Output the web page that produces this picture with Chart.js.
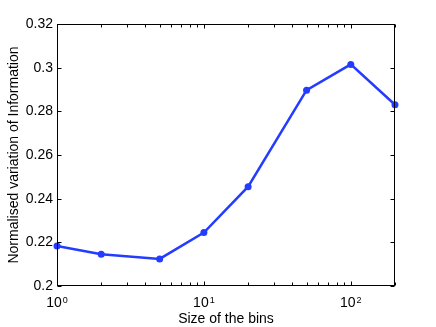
<!DOCTYPE html>
<html>
<head>
<meta charset="utf-8">
<script src="https://cdn.jsdelivr.net/npm/chart.js@4/dist/chart.umd.min.js"></script>
<style>
  html, body { margin: 0; padding: 0; background: #fff; }
  #wrap { width: 436px; height: 327px; }
</style>
</head>
<body>
<div id="wrap"><canvas id="c" width="436" height="327"></canvas></div>
<script>
// ---- data ----
const binSizes = [1, 2, 5, 10, 20, 50, 100, 200];
const nviValues = [0.2183, 0.2145, 0.2124, 0.2245, 0.2455, 0.2897, 0.3015, 0.2830];
const yTickValues = [0.2, 0.22, 0.24, 0.26, 0.28, 0.3, 0.32];
const xMajorTicks = [1, 10, 100];
const xMinorTicks = [2, 3, 4, 5, 6, 7, 8, 9, 20, 30, 40, 50, 60, 70, 80, 90, 200];
const xTitle = 'Size of the bins';
const yTitle = 'Normalised variation of Information';

const FONT = 'Liberation Sans, Arial, Helvetica, sans-serif';

const boxPlugin = {
  id: 'matlabBox',
  afterDraw(chart) {
    const ctx = chart.ctx;
    const a = chart.chartArea;
    const xs = chart.scales.x, ys = chart.scales.y;
    const L = Math.round(a.left) + 0.5, R = Math.round(a.right) - 0.5;
    const T = Math.round(a.top) + 0.5, B = Math.round(a.bottom) - 0.5;
    ctx.save();
    ctx.strokeStyle = '#000';
    ctx.lineWidth = 1;
    ctx.strokeRect(L, T, R - L, B - T);
    ctx.beginPath();
    // y ticks (inside, both sides)
    yTickValues.forEach(v => {
      const y = Math.round(ys.getPixelForValue(v)) + 0.5;
      ctx.moveTo(L, y); ctx.lineTo(L + 4, y);
      ctx.moveTo(R, y); ctx.lineTo(R - 4, y);
    });
    // x ticks (inside, top and bottom)
    const xt = (v, len) => {
      const x = Math.round(xs.getPixelForValue(v)) + 0.5;
      ctx.moveTo(x, B); ctx.lineTo(x, B - len);
      ctx.moveTo(x, T); ctx.lineTo(x, T + len);
    };
    xMajorTicks.forEach(v => xt(v, 4));
    xMinorTicks.forEach(v => xt(v, 3));
    ctx.stroke();
    // x tick labels: 10^n
    ctx.fillStyle = '#000';
    ctx.textBaseline = 'alphabetic';
    ctx.textAlign = 'left';
    xMajorTicks.forEach(v => {
      const x = xs.getPixelForValue(v);
      const exp = String(Math.round(Math.log10(v)));
      ctx.font = '14px ' + FONT;
      const wb = ctx.measureText('10').width;
      ctx.font = '9px ' + FONT;
      const we = ctx.measureText(exp).width;
      const start = x - (wb + we + 1) / 2;
      ctx.font = '14px ' + FONT;
      ctx.fillText('10', start, 307);
      ctx.font = '9px ' + FONT;
      ctx.fillText(exp, start + wb + 1, 303);
    });
    ctx.restore();
  }
};

new Chart(document.getElementById('c'), {
  type: 'line',
  data: {
    datasets: [{
      data: binSizes.map((x, i) => ({ x: x, y: nviValues[i] })),
      borderColor: 'rgb(35,60,255)',
      backgroundColor: 'rgb(35,60,255)',
      borderWidth: 2.5,
      pointRadius: 3.5,
      pointHoverRadius: 3.5,
      pointBorderWidth: 0,
      tension: 0,
      fill: false,
      clip: false
    }]
  },
  options: {
    responsive: false,
    animation: false,
    devicePixelRatio: 1,
    events: [],
    layout: { padding: { top: 24, right: 41, bottom: 0, left: 0 } },
    plugins: { legend: { display: false }, tooltip: { enabled: false } },
    scales: {
      x: {
        type: 'logarithmic',
        min: 1, max: 200,
        grid: { display: false, drawTicks: false },
        border: { display: false },
        ticks: { display: false },
        title: {
          display: true, text: xTitle, color: '#000',
          font: { family: FONT, size: 14 },
          padding: { top: 0, bottom: -1 }
        },
        afterFit(s) { s.height = 41; }
      },
      y: {
        type: 'linear',
        min: 0.2, max: 0.32,
        afterBuildTicks(s) { s.ticks = yTickValues.map(v => ({ value: v })); },
        grid: { display: false, drawTicks: false },
        border: { display: false },
        ticks: {
          color: '#000', padding: 4,
          font: { family: FONT, size: 14 },
          callback: v => String(parseFloat(Number(v).toFixed(2)))
        },
        title: {
          display: true, text: yTitle, color: '#000',
          font: { family: FONT, size: 14 },
          padding: { top: 6, bottom: 0 }
        },
        afterFit(s) { s.width = 57; }
      }
    }
  },
  plugins: [boxPlugin]
});
</script>
</body>
</html>
